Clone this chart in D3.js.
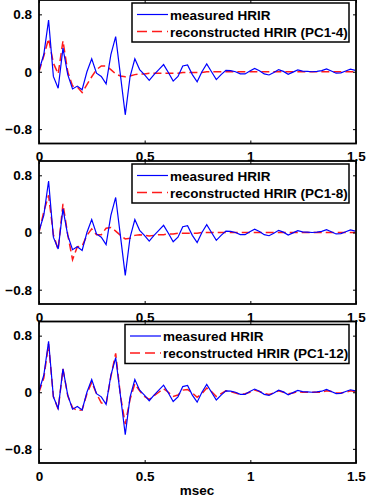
<!DOCTYPE html>
<html>
<head>
<meta charset="utf-8">
<script src="https://cdnjs.cloudflare.com/ajax/libs/d3/7.8.5/d3.min.js"></script>
<style>
  body { margin: 0; background: #fff; }
  svg text { font-family: "Liberation Sans", Arial, sans-serif; font-weight: bold; }
</style>
</head>
<body>
<div id="chart"></div>
<script>
// sample rate 44.1 kHz -> time in msec
const sampleRate = 44.1;

const measured = [0.02, 0.24, 0.72, -0.065, -0.23, 0.33, -0.04, -0.24, -0.20, -0.25,
  0.0, 0.18, -0.02, -0.065, -0.17, 0.24, 0.49, -0.05, -0.60, -0.07,
  0.18, 0.03, -0.04, -0.12, -0.04, 0.03, 0.10, -0.01, -0.13, -0.065,
  0.08, 0.095, -0.04, -0.14, 0.0, 0.11, 0.0, -0.11, -0.04, 0.02,
  0.015, 0.0, -0.03, -0.03, 0.01, 0.045, 0.015, -0.03, -0.045, -0.01,
  0.03, 0.005, -0.035, -0.005, 0.025, 0.01, 0.005, 0.0, 0.005, 0.015,
  0.04, 0.01, -0.02, -0.015, 0.01, 0.035, 0.02];

const recon4 = [0.0, 0.22, 0.46, 0.12, -0.03, 0.43, 0.0, -0.20, -0.21, -0.29,
  -0.18, -0.07, 0.03, 0.08, 0.08, 0.03, -0.03, -0.06, -0.07, -0.06,
  -0.04, -0.03, -0.03, -0.02, -0.02, -0.02, -0.02, -0.02, -0.02, -0.02,
  -0.01, -0.01, -0.01, -0.01, -0.01, 0.0, 0.0, 0.0, 0.0, 0.0,
  0.0, 0.0, 0.0, 0.0, 0.0, 0.0, 0.0, 0.0, 0.0, 0.0,
  0.0, 0.0, 0.0, 0.0, 0.0, 0.0, 0.0, 0.0, 0.0, 0.0,
  0.0, 0.0, 0.0, 0.0, 0.0, 0.0, 0.0];

const recon8 = [0.0, 0.29, 0.52, -0.03, -0.24, 0.40, -0.03, -0.38, -0.20, -0.19,
  -0.04, 0.05, -0.03, -0.03, 0.06, 0.07, 0.02, -0.04, -0.09, -0.08,
  -0.04, -0.03, -0.04, -0.05, -0.04, -0.03, -0.03, -0.02, -0.02, -0.01,
  -0.01, -0.01, -0.01, -0.01, 0.0, 0.0, 0.0, 0.0, 0.0, 0.0,
  0.0, 0.0, 0.0, 0.0, 0.0, 0.0, 0.0, 0.0, 0.0, 0.0,
  0.0, 0.0, 0.0, 0.0, 0.0, 0.0, 0.0, 0.0, 0.0, 0.0,
  0.0, 0.0, 0.0, 0.0, 0.0, 0.0, 0.0];

const recon12 = [0.0, 0.2, 0.68, -0.06, -0.24, 0.33, -0.05, -0.22, -0.26, -0.25,
  -0.02, 0.14, -0.02, -0.15, -0.17, 0.22, 0.55, -0.05, -0.45, -0.10,
  0.12, 0.02, -0.06, -0.10, -0.05, 0.0, 0.05, 0.0, -0.06, -0.04,
  0.03, 0.04, -0.01, -0.07, -0.02, 0.06, 0.01, -0.06, -0.02, 0.02,
  0.01, -0.01, -0.03, -0.02, 0.0, 0.03, 0.01, -0.02, -0.03, -0.01,
  0.02, 0.0, -0.02, -0.01, 0.01, 0.0, 0.0, 0.0, 0.0, 0.0,
  0.02, 0.01, -0.01, -0.01, 0.0, 0.02, 0.01];

const legendLabels = ["reconstructed HRIR (PC1-4)", "reconstructed HRIR (PC1-8)", "reconstructed HRIR (PC1-12)"];
const reconSeries = [recon4, recon8, recon12];
const xTicks = [0, 0.5, 1, 1.5];
const yTicks = [-0.8, 0, 0.8];

const W = 366, H = 502;
const svg = d3.select("#chart").append("svg").attr("width", W).attr("height", H);

const panels = [
  { top: 0, bottom: 143.5, legX: 132, legW: 217 },
  { top: 161, bottom: 304, legX: 132, legW: 217 },
  { top: 321.5, bottom: 463, legX: 125, legW: 224 }
];
const left = 39, right = 356;

const x = d3.scaleLinear().domain([0, 1.5]).range([left, right]);

panels.forEach((p, k) => {
  const y = d3.scaleLinear().domain([-1, 1]).range([p.bottom, p.top]);
  const g = svg.append("g");

  const clipId = "clip" + k;
  g.append("clipPath").attr("id", clipId).append("rect")
    .attr("x", left).attr("y", p.top).attr("width", right - left).attr("height", p.bottom - p.top);

  const line = d3.line().x((d, i) => x(i / sampleRate)).y(d => y(d));

  const plot = g.append("g").attr("clip-path", `url(#${clipId})`);
  plot.append("path").datum(reconSeries[k])
    .attr("fill", "none").attr("stroke", "#ff1a1a").attr("stroke-width", 1.5)
    .attr("stroke-dasharray", "8,4").attr("d", line);
  plot.append("path").datum(measured)
    .attr("fill", "none").attr("stroke", "#0000ff").attr("stroke-width", 1.2)
    .attr("d", line);

  // axes with inward ticks
  g.append("g").attr("transform", `translate(0,${p.bottom})`)
    .call(d3.axisBottom(x).tickValues(xTicks).tickSizeInner(-3).tickSizeOuter(0).tickPadding(8).tickFormat(d3.format("")))
    .call(a => a.select(".domain").remove())
    .call(a => a.selectAll("text").attr("font-size", 13.5).attr("fill", "#000"));
  g.append("g").attr("transform", `translate(0,${p.top})`)
    .call(d3.axisTop(x).tickValues(xTicks).tickSizeInner(-3).tickSizeOuter(0).tickFormat(""))
    .call(a => a.select(".domain").remove());
  g.append("g").attr("transform", `translate(${left},0)`)
    .call(d3.axisLeft(y).tickValues(yTicks).tickSizeInner(-3).tickSizeOuter(0).tickPadding(7).tickFormat(d3.format("")))
    .call(a => a.select(".domain").remove())
    .call(a => a.selectAll("text").attr("font-size", 13.5).attr("fill", "#000"));
  g.append("g").attr("transform", `translate(${right},0)`)
    .call(d3.axisRight(y).tickValues(yTicks).tickSizeInner(-3).tickSizeOuter(0).tickFormat(""))
    .call(a => a.select(".domain").remove());

  g.append("rect").attr("x", left).attr("y", p.top).attr("width", right - left)
    .attr("height", p.bottom - p.top).attr("fill", "none").attr("stroke", "#000").attr("stroke-width", 1.8);

  // legend
  const lg = g.append("g").attr("transform", `translate(${p.legX},${p.top + 3})`);
  lg.append("rect").attr("width", p.legW).attr("height", 39)
    .attr("fill", "#fff").attr("stroke", "#000").attr("stroke-width", 1.5);
  lg.append("line").attr("x1", 5).attr("x2", 36).attr("y1", 11.5).attr("y2", 11.5)
    .attr("stroke", "#0000ff").attr("stroke-width", 1.2);
  lg.append("line").attr("x1", 5).attr("x2", 36).attr("y1", 28.5).attr("y2", 28.5)
    .attr("stroke", "#ff1a1a").attr("stroke-width", 1.5).attr("stroke-dasharray", "10,5");
  lg.append("text").attr("x", 38).attr("y", 16.5).attr("font-size", 13.5).text("measured HRIR");
  lg.append("text").attr("x", 38).attr("y", 33.5).attr("font-size", 13.5).text(legendLabels[k]);
});

svg.append("text").attr("x", 197).attr("y", 495).attr("text-anchor", "middle")
  .attr("font-size", 13.5).text("msec");
</script>
</body>
</html>
